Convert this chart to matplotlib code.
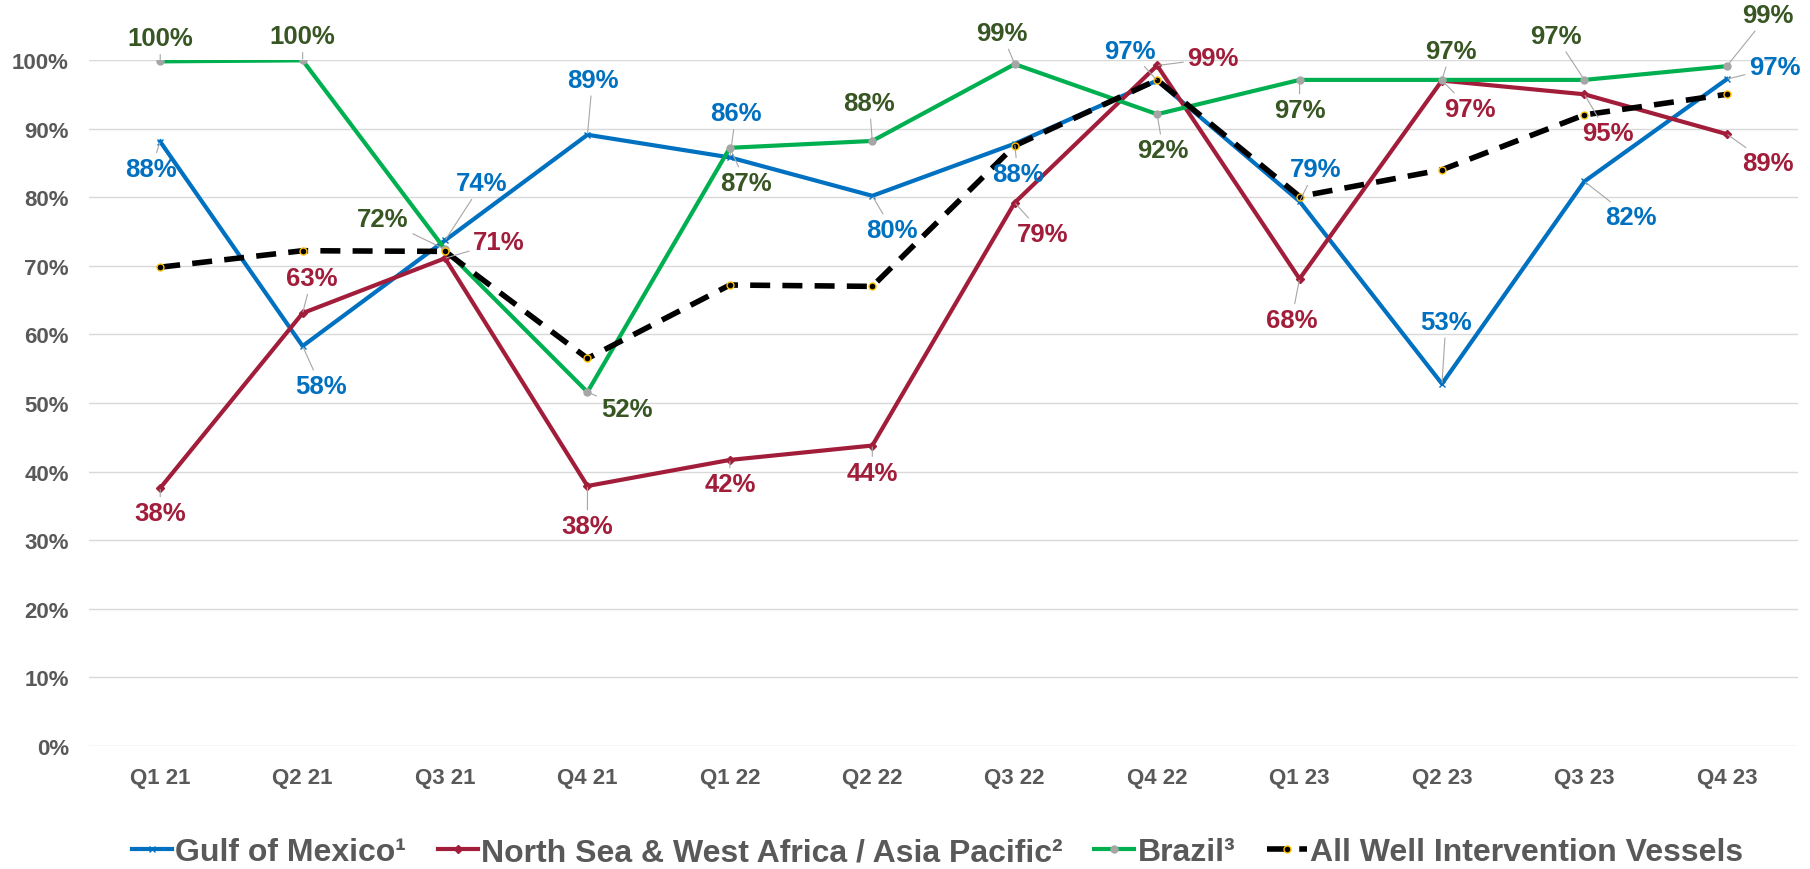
import matplotlib.pyplot as plt
from matplotlib.ticker import PercentFormatter

plt.rcParams['font.family'] = ['Liberation Sans', 'DejaVu Sans']
plt.rcParams['font.weight'] = 'bold'

quarters = ['Q1 21', 'Q2 21', 'Q3 21', 'Q4 21', 'Q1 22', 'Q2 22',
            'Q3 22', 'Q4 22', 'Q1 23', 'Q2 23', 'Q3 23', 'Q4 23']

gulf = [88.1, 58.3, 73.7, 89.1, 85.8, 80.2, 87.8, 97.0, 79.4, 52.8, 82.3, 97.2]
north_sea = [37.6, 63.1, 71.1, 37.9, 41.7, 43.8, 79.2, 99.2, 68.1, 97.0, 95.0, 89.2]
brazil = [99.8, 99.95, 72.4, 51.6, 87.2, 88.2, 99.4, 92.1, 97.1, 97.1, 97.1, 99.1]
all_vessels = [69.8, 72.2, 72.1, 56.5, 67.2, 67.0, 87.5, 97.1, 80.1, 84.0, 92.0, 95.0]

# label offsets in pixels (dx, dy), dy positive = down
gulf_off = [(-9, 27), (18, 40), (37, -57), (5, -55), (6, -44), (20, 34),
            (3, 30), (-27, -30), (16, -32), (4, -62), (46, 36), (48, -12)]
north_off = [(0, 25), (9, -35), (54, -16), (0, 40), (0, 24), (0, 27),
             (28, 31), (56, -7), (-8, 41), (28, 28), (23, 39), (41, 29)]
brazil_off = [(0, -23), (0, -24), (-62, -30), (39, 17), (16, 35), (-3, -38),
              (-13, -31), (6, 36), (0, 30), (9, -29), (-29, -44), (41, -51)]

blue = '#0070C0'
red = '#A11D3A'
green = '#00B050'
dark_green = '#375623'
grid_grey = '#D9D9D9'
text_grey = '#595959'

fig = plt.figure(figsize=(18.1, 8.7), dpi=100)
ax = fig.add_axes([89 / 1810, 1 - 747 / 870, (1798 - 89) / 1810, (747 - 61) / 870])

x = list(range(len(quarters)))
ax.plot(x, gulf, color=blue, lw=3, marker='x', ms=5, mew=1,
        label='Gulf of Mexico\u00b9', zorder=3)
ax.plot(x, north_sea, color=red, lw=3, marker='D', ms=4,
        label='North Sea & West Africa / Asia Pacific\u00b2', zorder=3)
ax.plot(x, brazil, color=green, lw=3, marker='o', ms=5, mfc='#A6A6A6', mec='#A6A6A6',
        label='Brazil\u00b3', zorder=3)
ax.plot(x, all_vessels, color='black', lw=4, ls=(0, (3.6, 2.2)), marker='o', ms=5,
        mfc='black', mec='#FFC000', mew=1, label='All Well Intervention Vessels', zorder=4)


def add_labels(values, offsets, color):
    for i, (v, (dx, dy)) in enumerate(zip(values, offsets)):
        ax.annotate(f'{round(v):.0f}%', xy=(i, v), xytext=(dx, -dy),
                    textcoords='offset pixels', ha='center', va='center',
                    fontsize=18.5, fontweight='bold', color=color,
                    annotation_clip=False, zorder=5,
                    arrowprops=dict(arrowstyle='-', color='#A6A6A6', lw=0.8,
                                    shrinkA=1, shrinkB=1))


add_labels(gulf, gulf_off, blue)
add_labels(north_sea, north_off, red)
add_labels(brazil, brazil_off, dark_green)

ax.set_xlim(-0.5, len(quarters) - 0.5)
ax.set_ylim(0, 100)
ax.set_yticks(range(0, 101, 10))
ax.yaxis.set_major_formatter(PercentFormatter(decimals=0))
ax.set_xticks(x)
ax.set_xticklabels(quarters)
ax.grid(axis='y', color=grid_grey, lw=1)
ax.set_axisbelow(True)
for s in ax.spines.values():
    s.set_visible(False)
ax.tick_params(length=0, labelsize=16, labelcolor=text_grey)
ax.tick_params(axis='x', pad=15)
ax.tick_params(axis='y', pad=14.5)

fig.legend(loc='center', bbox_to_anchor=(0.518, 0.0195), ncol=4, frameon=False,
           fontsize=23, handlelength=1.25, handletextpad=0.1, columnspacing=1.0,
           labelcolor=text_grey)

fig.savefig('out.png', dpi=100)
